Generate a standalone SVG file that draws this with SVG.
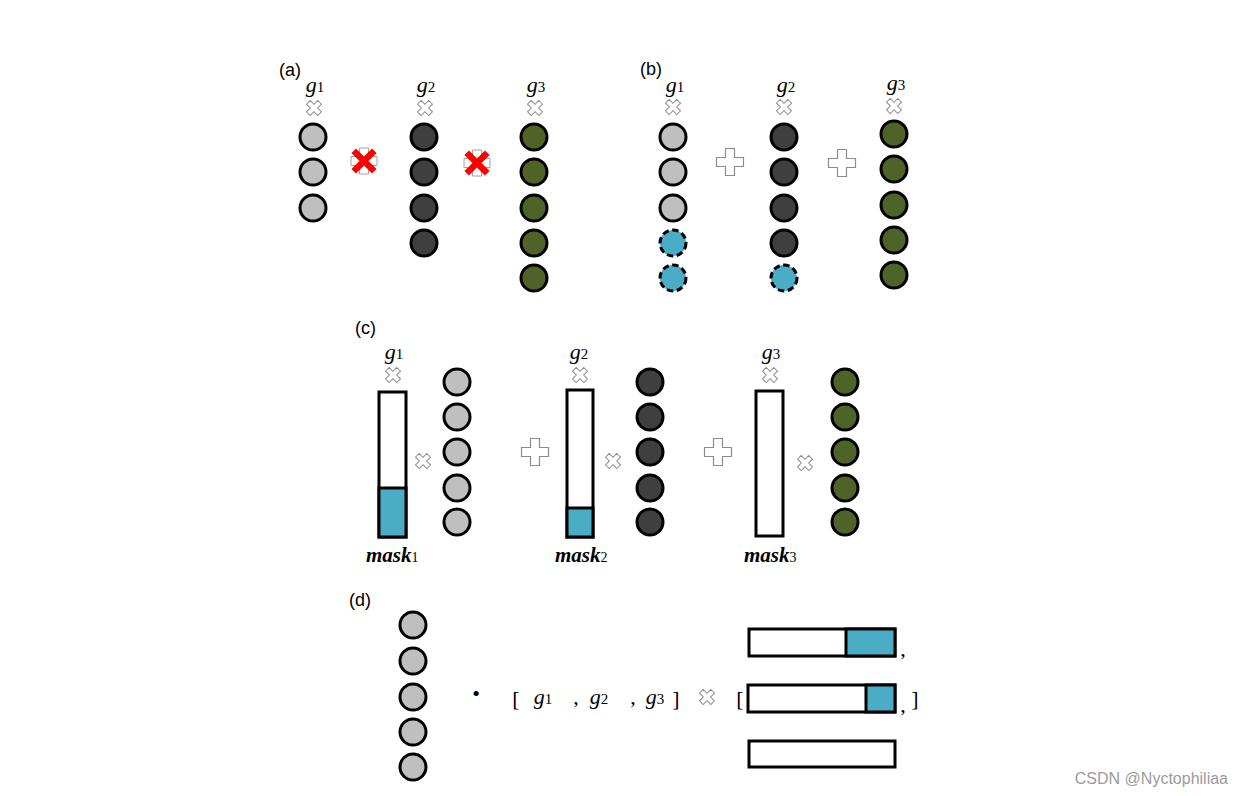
<svg xmlns="http://www.w3.org/2000/svg" xmlns:xlink="http://www.w3.org/1999/xlink" width="1242" height="796" viewBox="0 0 1242 796">
<style>
.lbl{font-family:"Liberation Sans","Open Sans",sans-serif;font-size:18px;fill:#000}
.g{font-family:"Liberation Serif","Times New Roman",serif;font-size:22px;fill:#000}
.g .i{font-style:italic}
.g .s{font-size:15px}
.m{font-family:"Liberation Serif","Times New Roman",serif;font-size:21px;font-weight:bold;font-style:italic;fill:#000}
.m .s{font-size:14px;font-weight:normal;font-style:normal}
.br{font-family:"Liberation Serif","Times New Roman",serif;font-size:22px;fill:#000}
.c{stroke:#000;stroke-width:3}
.lg{fill:#bfbfbf}
.dk{fill:#3f3f3f}
.gr{fill:#4f6228}
.bl{fill:#4bacc6}
.dash{stroke-dasharray:6.5 3.5}
.bar{fill:#fff;stroke:#000;stroke-width:3}
.fill{fill:#4bacc6;stroke:#000;stroke-width:3}
.wm{font-family:"Liberation Sans",Arial,sans-serif;font-size:16px;fill:#9b9b9b}
</style>
<defs>
<path id="xs" d="M-2.6,-8H2.6V-2.6H8V2.6H2.6V8H-2.6V2.6H-8V-2.6H-2.6Z" transform="rotate(45)" fill="#fff" stroke="#8c8c8c" stroke-width="1"/>
<path id="pl" d="M-4.5,-13.5H4.5V-4.5H13.5V4.5H4.5V13.5H-4.5V4.5H-13.5V-4.5H-4.5Z" fill="#fff" stroke="#8c8c8c" stroke-width="1.2"/>
<g id="rx">
<path d="M-4.5,-13H4.5V-4.5H13V4.5H4.5V13H-4.5V4.5H-13V-4.5H-4.5Z" fill="#fff" stroke="#a0a0a0" stroke-width="1"/>
<path d="M-10.3,-10.3L10.3,10.3M10.3,-10.3L-10.3,10.3" stroke="#ff0000" stroke-width="6.5"/>
</g>
</defs>
<g id="connectors"/>

<!-- Panel (a) -->
<g id="panel-a">
<text class="lbl" x="279" y="76">(a)</text>
<g id="a-g1">
<text class="g" x="315" y="92" text-anchor="middle"><tspan class="i">g</tspan><tspan class="s">1</tspan></text>
<use xlink:href="#xs" x="314" y="108"/>
<circle class="c lg" cx="313" cy="137" r="13"/>
<circle class="c lg" cx="313" cy="172" r="13"/>
<circle class="c lg" cx="313" cy="208" r="13"/>
</g>
<g id="a-op1"><use xlink:href="#rx" x="364" y="161"/></g>
<g id="a-g2">
<text class="g" x="426" y="92" text-anchor="middle"><tspan class="i">g</tspan><tspan class="s">2</tspan></text>
<use xlink:href="#xs" x="425" y="108"/>
<circle class="c dk" cx="424" cy="137" r="13"/>
<circle class="c dk" cx="424" cy="172" r="13"/>
<circle class="c dk" cx="424" cy="208" r="13"/>
<circle class="c dk" cx="424" cy="243" r="13"/>
</g>
<g id="a-op2"><use xlink:href="#rx" x="477" y="163"/></g>
<g id="a-g3">
<text class="g" x="536" y="92" text-anchor="middle"><tspan class="i">g</tspan><tspan class="s">3</tspan></text>
<use xlink:href="#xs" x="535" y="108"/>
<circle class="c gr" cx="534" cy="137" r="13"/>
<circle class="c gr" cx="534" cy="172" r="13"/>
<circle class="c gr" cx="534" cy="208" r="13"/>
<circle class="c gr" cx="534" cy="243" r="13"/>
<circle class="c gr" cx="534" cy="278" r="13"/>
</g>
</g>

<!-- Panel (b) -->
<g id="panel-b">
<text class="lbl" x="640" y="75">(b)</text>
<g id="b-g1">
<text class="g" x="675" y="92" text-anchor="middle"><tspan class="i">g</tspan><tspan class="s">1</tspan></text>
<use xlink:href="#xs" x="673" y="107"/>
<circle class="c lg" cx="673" cy="137" r="13"/>
<circle class="c lg" cx="673" cy="172" r="13"/>
<circle class="c lg" cx="673" cy="208" r="13"/>
<circle class="c bl dash" cx="673" cy="243" r="13"/>
<circle class="c bl dash" cx="673" cy="278" r="13"/>
</g>
<g id="b-op1"><use xlink:href="#pl" x="730" y="162"/></g>
<g id="b-g2">
<text class="g" x="786" y="92" text-anchor="middle"><tspan class="i">g</tspan><tspan class="s">2</tspan></text>
<use xlink:href="#xs" x="784" y="107"/>
<circle class="c dk" cx="784" cy="137" r="13"/>
<circle class="c dk" cx="784" cy="172" r="13"/>
<circle class="c dk" cx="784" cy="208" r="13"/>
<circle class="c dk" cx="784" cy="243" r="13"/>
<circle class="c bl dash" cx="784" cy="278" r="13"/>
</g>
<g id="b-op2"><use xlink:href="#pl" x="842" y="163"/></g>
<g id="b-g3">
<text class="g" x="896" y="90" text-anchor="middle"><tspan class="i">g</tspan><tspan class="s">3</tspan></text>
<use xlink:href="#xs" x="894" y="106"/>
<circle class="c gr" cx="894" cy="134" r="13"/>
<circle class="c gr" cx="894" cy="169" r="13"/>
<circle class="c gr" cx="894" cy="205" r="13"/>
<circle class="c gr" cx="894" cy="240" r="13"/>
<circle class="c gr" cx="894" cy="275" r="13"/>
</g>
</g>

<!-- Panel (c) -->
<g id="panel-c">
<text class="lbl" x="355" y="334">(c)</text>
<g id="c-g1">
<text class="g" x="394" y="359" text-anchor="middle"><tspan class="i">g</tspan><tspan class="s">1</tspan></text>
<use xlink:href="#xs" x="393" y="375"/>
<rect class="bar" x="379" y="392" width="27" height="145"/>
<rect class="fill" x="379" y="488" width="27" height="49"/>
<text class="m" x="366" y="562">mask<tspan class="s">1</tspan></text>
<use xlink:href="#xs" x="423" y="461"/>
<circle class="c lg" cx="457" cy="382" r="13"/>
<circle class="c lg" cx="457" cy="417" r="13"/>
<circle class="c lg" cx="457" cy="452" r="13"/>
<circle class="c lg" cx="457" cy="488" r="13"/>
<circle class="c lg" cx="457" cy="522" r="13"/>
</g>
<g id="c-op1"><use xlink:href="#pl" x="535" y="452"/></g>
<g id="c-g2">
<text class="g" x="579" y="359" text-anchor="middle"><tspan class="i">g</tspan><tspan class="s">2</tspan></text>
<use xlink:href="#xs" x="580" y="375"/>
<rect class="bar" x="567" y="390" width="26" height="147"/>
<rect class="fill" x="567" y="508" width="26" height="29"/>
<text class="m" x="555" y="562">mask<tspan class="s">2</tspan></text>
<use xlink:href="#xs" x="613" y="461"/>
<circle class="c dk" cx="650" cy="382" r="13"/>
<circle class="c dk" cx="650" cy="417" r="13"/>
<circle class="c dk" cx="650" cy="452" r="13"/>
<circle class="c dk" cx="650" cy="488" r="13"/>
<circle class="c dk" cx="650" cy="522" r="13"/>
</g>
<g id="c-op2"><use xlink:href="#pl" x="718" y="452"/></g>
<g id="c-g3">
<text class="g" x="771" y="359" text-anchor="middle"><tspan class="i">g</tspan><tspan class="s">3</tspan></text>
<use xlink:href="#xs" x="770" y="375"/>
<rect class="bar" x="756" y="391" width="27" height="145"/>
<text class="m" x="744" y="562">mask<tspan class="s">3</tspan></text>
<use xlink:href="#xs" x="805" y="463"/>
<circle class="c gr" cx="845" cy="382" r="13"/>
<circle class="c gr" cx="845" cy="417" r="13"/>
<circle class="c gr" cx="845" cy="452" r="13"/>
<circle class="c gr" cx="845" cy="488" r="13"/>
<circle class="c gr" cx="845" cy="522" r="13"/>
</g>
</g>

<!-- Panel (d) -->
<g id="panel-d">
<text class="lbl" x="349" y="606">(d)</text>
<g id="d-vec">
<circle class="c lg" cx="413" cy="625" r="13"/>
<circle class="c lg" cx="413" cy="661" r="13"/>
<circle class="c lg" cx="413" cy="697" r="13"/>
<circle class="c lg" cx="413" cy="732" r="13"/>
<circle class="c lg" cx="413" cy="767" r="13"/>
</g>
<g id="d-expr">
<text class="br" x="476" y="701" text-anchor="middle" font-size="13">•</text>
<text class="br" x="516" y="706" text-anchor="middle">[</text>
<text class="g" x="543" y="704" text-anchor="middle"><tspan class="i">g</tspan><tspan class="s">1</tspan></text>
<text class="g" x="576" y="704" text-anchor="middle">,</text>
<text class="g" x="599" y="704" text-anchor="middle"><tspan class="i">g</tspan><tspan class="s">2</tspan></text>
<text class="g" x="633" y="704" text-anchor="middle">,</text>
<text class="g" x="655" y="704" text-anchor="middle"><tspan class="i">g</tspan><tspan class="s">3</tspan></text>
<text class="br" x="676" y="706" text-anchor="middle">]</text>
<use xlink:href="#xs" x="707" y="697"/>
<text class="br" x="740" y="706" text-anchor="middle">[</text>
<text class="br" x="915" y="706" text-anchor="middle">]</text>
</g>
<g id="d-masks">
<rect class="bar" x="749" y="629" width="146" height="27"/>
<rect class="fill" x="846" y="629" width="49" height="27"/>
<text class="g" x="903" y="656" text-anchor="middle">,</text>
<rect class="bar" x="748" y="685" width="147" height="27"/>
<rect class="fill" x="866" y="685" width="29" height="27"/>
<text class="g" x="903" y="712" text-anchor="middle">,</text>
<rect class="bar" x="749" y="741" width="146" height="26"/>
</g>
</g>

<text class="wm" x="1228" y="784" text-anchor="end">CSDN @Nyctophiliaa</text>
</svg>
